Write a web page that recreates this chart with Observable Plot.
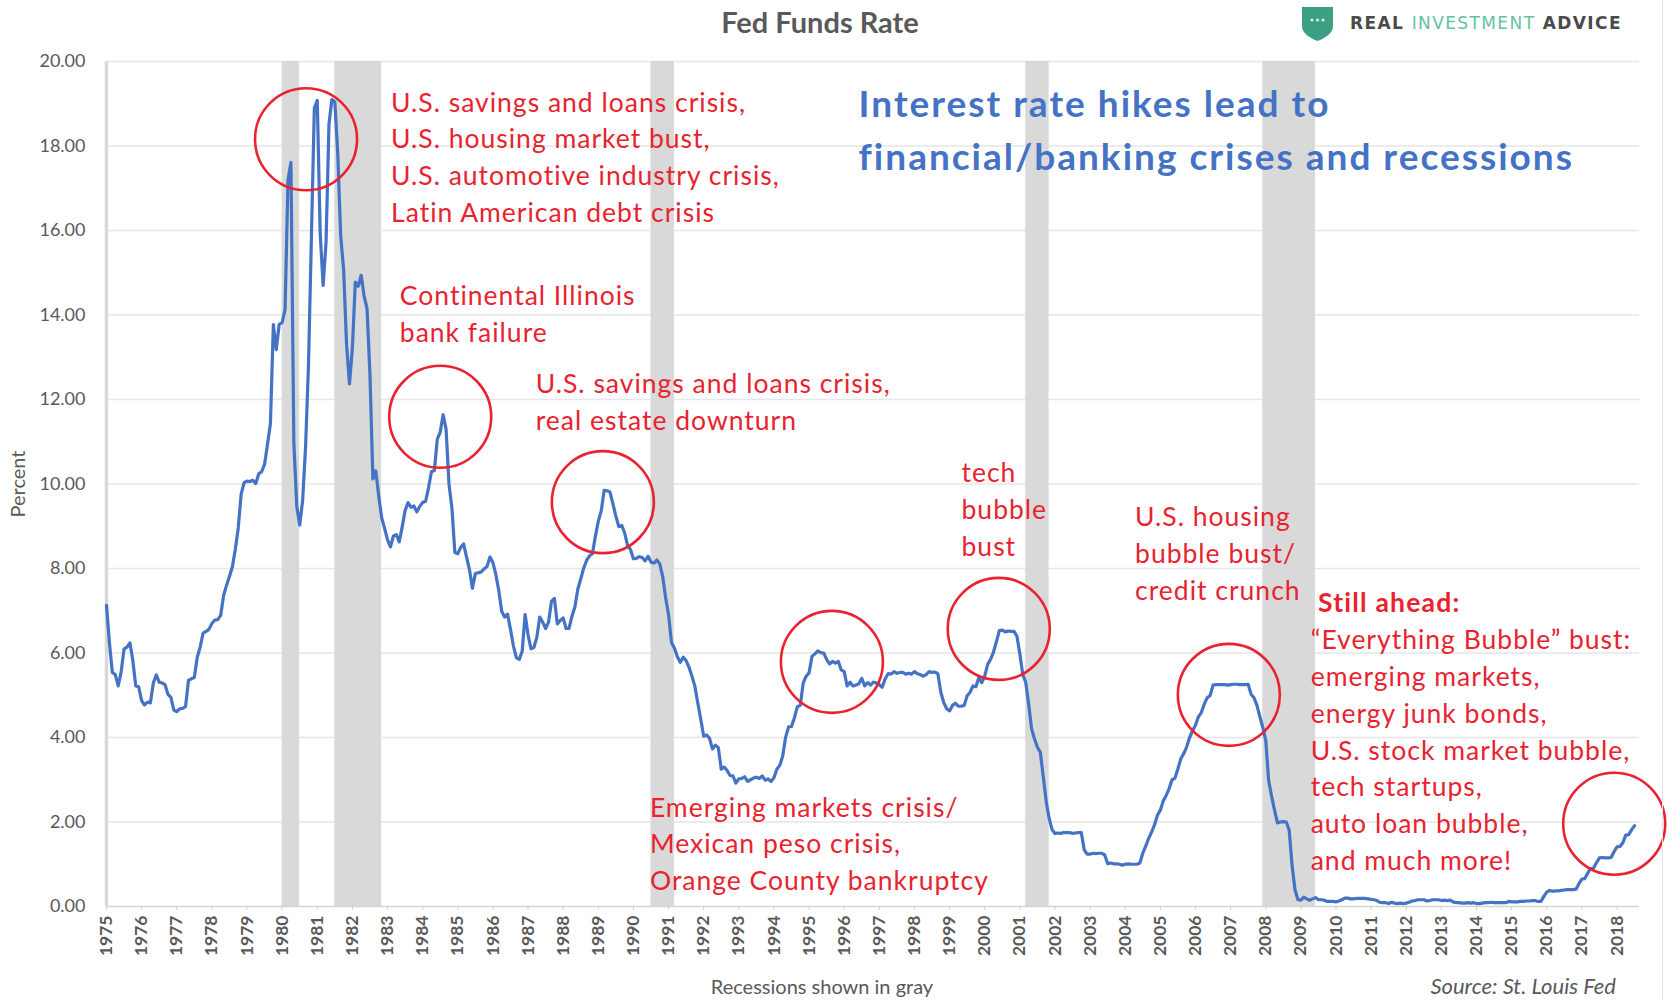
<!DOCTYPE html>
<html>
<head>
<meta charset="utf-8">
<script src="https://cdn.jsdelivr.net/npm/d3@7"></script>
<script src="https://cdn.jsdelivr.net/npm/@observablehq/plot@0.6"></script>
<style>
  html, body { margin: 0; padding: 0; background: #fff; }
  #wrap { position: relative; width: 1669px; height: 1001px; overflow: hidden; font-family: Lato, "Open Sans", sans-serif; }
  #chart { position: absolute; left: 0; top: 0; }
  #title { position: absolute; left: 820px; top: 21px; transform: translate(-50%, -50%); white-space: nowrap;
           font-size: 29px; font-weight: 700; color: #595959; }
  #logo { position: absolute; left: 1301px; top: 4px; height: 38px; display: flex; align-items: center; white-space: nowrap; }
  #logo .txt { margin-left: 16px; font-family: "DejaVu Sans", sans-serif; font-weight: 700; font-size: 17px; letter-spacing: 1.4px; color: #4a4a4a; }
  #logo .txt .g { color: #62c3a3; font-weight: 400; }
  #foot1 { position: absolute; left: 822px; top: 986px; transform: translate(-50%, -50%); white-space: nowrap; font-size: 20px; line-height: 1; color: #595959; }
  #foot2 { position: absolute; right: 53px; top: 986px; transform: translateY(-50%); white-space: nowrap; font-size: 22px; line-height: 1; font-style: italic; color: #595959; }
  #edge { position: absolute; left: 1662px; top: 0; width: 1px; height: 1001px; background: #e4e4e4; }
  #chart g[aria-label="text"][fill="#e8232f"] text { letter-spacing: 1px; }
  #chart g[aria-label="text"][fill="#e8232f"][font-weight="700"] text { letter-spacing: 1.2px; }
  #chart g[aria-label="text"][font-size="37"] text { letter-spacing: 2px; }
</style>
</head>
<body>
<div id="wrap">
  <div id="chart"></div>
  <div id="title">Fed Funds Rate</div>
  <div id="logo">
    <svg width="33" height="37" viewBox="0 0 33 37">
      <path d="M1,2 H32 V21 Q32,30 16.5,36 Q1,30 1,21 Z" fill="#3a9f83"/>
      <circle cx="11" cy="15" r="1.6" fill="#d8f2ea"/>
      <circle cx="16.5" cy="15" r="1.6" fill="#d8f2ea"/>
      <circle cx="22" cy="15" r="1.6" fill="#d8f2ea"/>
    </svg>
    <span class="txt">REAL <span class="g">INVESTMENT</span> ADVICE</span>
  </div>
  <div id="foot1">Recessions shown in gray</div>
  <div id="foot2">Source: St. Louis Fed</div>
  <div id="edge"></div>
</div>
<script>
// ---- Data: monthly effective Fed Funds Rate (percent), starting Jan 1975 ----
const startYear = 1975;
const rate1975_1979 = [
  7.13, 6.24, 5.54, 5.49, 5.22, 5.55, 6.10, 6.14, 6.24, 5.82, 5.22, 5.20,
  4.87, 4.77, 4.84, 4.82, 5.29, 5.48, 5.31, 5.29, 5.25, 5.02, 4.95, 4.65,
  4.61, 4.68, 4.69, 4.73, 5.35, 5.39, 5.42, 5.90, 6.14, 6.47, 6.51, 6.56,
  6.70, 6.78, 6.79, 6.89, 7.36, 7.60, 7.81, 8.04, 8.45, 8.96, 9.76, 10.03,
  10.07, 10.06, 10.09, 10.01, 10.24, 10.29, 10.47, 10.94, 11.43, 13.77, 13.18, 13.78
];
const rate1980_1989 = [
  13.82, 14.13, 17.19, 17.61, 10.98, 9.47, 9.03, 9.61, 10.87, 12.81, 15.85, 18.90,
  19.08, 15.93, 14.70, 15.72, 18.52, 19.10, 19.04, 17.82, 15.87, 15.08, 13.31, 12.37,
  13.22, 14.78, 14.68, 14.94, 14.45, 14.15, 12.59, 10.12, 10.31, 9.71, 9.20, 8.95,
  8.68, 8.51, 8.77, 8.80, 8.63, 8.98, 9.37, 9.56, 9.45, 9.48, 9.34, 9.47,
  9.56, 9.59, 9.91, 10.29, 10.32, 11.06, 11.23, 11.64, 11.30, 9.99, 9.43, 8.38,
  8.35, 8.50, 8.58, 8.27, 7.97, 7.53, 7.88, 7.90, 7.92, 7.99, 8.05, 8.27,
  8.14, 7.86, 7.48, 6.99, 6.85, 6.92, 6.56, 6.17, 5.89, 5.85, 6.04, 6.91,
  6.43, 6.10, 6.13, 6.37, 6.85, 6.73, 6.58, 6.73, 7.22, 7.29, 6.69, 6.77,
  6.83, 6.58, 6.58, 6.87, 7.09, 7.51, 7.75, 8.01, 8.19, 8.30, 8.35, 8.76,
  9.12, 9.36, 9.85, 9.84, 9.81, 9.53, 9.24, 8.99, 9.02, 8.84, 8.55, 8.45
];
const rate1990_1999 = [
  8.23, 8.24, 8.28, 8.26, 8.18, 8.29, 8.15, 8.13, 8.20, 8.11, 7.81, 7.31,
  6.91, 6.25, 6.12, 5.91, 5.78, 5.90, 5.82, 5.66, 5.45, 5.21, 4.81, 4.43,
  4.03, 4.06, 3.98, 3.73, 3.82, 3.76, 3.25, 3.30, 3.22, 3.10, 3.09, 2.92,
  3.02, 3.03, 3.07, 2.96, 3.00, 3.04, 3.06, 3.03, 3.09, 2.99, 3.02, 2.96,
  3.05, 3.25, 3.34, 3.56, 4.01, 4.25, 4.26, 4.47, 4.73, 4.76, 5.29, 5.45,
  5.53, 5.92, 5.98, 6.05, 6.01, 6.00, 5.85, 5.74, 5.80, 5.76, 5.80, 5.60,
  5.56, 5.22, 5.31, 5.22, 5.24, 5.27, 5.40, 5.22, 5.30, 5.24, 5.31, 5.29,
  5.25, 5.19, 5.39, 5.51, 5.50, 5.56, 5.52, 5.54, 5.54, 5.50, 5.52, 5.50,
  5.56, 5.51, 5.49, 5.45, 5.49, 5.56, 5.54, 5.55, 5.51, 5.07, 4.83, 4.68,
  4.63, 4.76, 4.81, 4.74, 4.74, 4.76, 4.99, 5.07, 5.22, 5.20, 5.42, 5.30
];
const rate2000_2009 = [
  5.45, 5.73, 5.85, 6.02, 6.27, 6.53, 6.54, 6.50, 6.52, 6.51, 6.51, 6.40,
  5.98, 5.49, 5.31, 4.80, 4.21, 3.97, 3.77, 3.65, 3.07, 2.49, 2.09, 1.82,
  1.73, 1.74, 1.73, 1.75, 1.75, 1.75, 1.73, 1.74, 1.75, 1.75, 1.34, 1.24,
  1.24, 1.26, 1.25, 1.26, 1.26, 1.22, 1.01, 1.03, 1.01, 1.01, 1.00, 0.98,
  1.00, 1.01, 1.00, 1.00, 1.00, 1.03, 1.26, 1.43, 1.61, 1.76, 1.93, 2.16,
  2.28, 2.50, 2.63, 2.79, 3.00, 3.04, 3.26, 3.50, 3.62, 3.78, 4.00, 4.16,
  4.29, 4.49, 4.59, 4.79, 4.94, 4.99, 5.24, 5.25, 5.25, 5.25, 5.25, 5.24,
  5.25, 5.26, 5.26, 5.25, 5.25, 5.25, 5.26, 5.02, 4.94, 4.76, 4.49, 4.24,
  3.94, 2.98, 2.61, 2.28, 1.98, 2.00, 2.01, 2.00, 1.81, 0.97, 0.39, 0.16,
  0.15, 0.22, 0.18, 0.15, 0.18, 0.21, 0.16, 0.16, 0.15, 0.12, 0.12, 0.12
];
const rate2010_2018 = [
  0.11, 0.13, 0.16, 0.20, 0.20, 0.18, 0.18, 0.19, 0.19, 0.19, 0.19, 0.18,
  0.17, 0.16, 0.14, 0.10, 0.09, 0.09, 0.07, 0.10, 0.08, 0.07, 0.08, 0.07,
  0.08, 0.10, 0.13, 0.14, 0.16, 0.16, 0.16, 0.13, 0.14, 0.16, 0.16, 0.16,
  0.14, 0.15, 0.14, 0.15, 0.11, 0.09, 0.09, 0.08, 0.08, 0.09, 0.08, 0.09,
  0.07, 0.07, 0.08, 0.09, 0.09, 0.10, 0.09, 0.09, 0.09, 0.09, 0.09, 0.12,
  0.11, 0.11, 0.11, 0.12, 0.12, 0.13, 0.13, 0.14, 0.14, 0.12, 0.12, 0.24,
  0.34, 0.38, 0.36, 0.37, 0.37, 0.38, 0.39, 0.40, 0.40, 0.40, 0.41, 0.54,
  0.65, 0.66, 0.79, 0.90, 0.91, 1.04, 1.15, 1.16, 1.15, 1.15, 1.16, 1.30,
  1.41, 1.42, 1.51, 1.69, 1.70, 1.82, 1.91
];

// Recessions (shaded gray)
const recessionStart = ["1980-01", "1981-07", "1990-07", "2001-03", "2007-12"];
const recessionEnd   = ["1980-07", "1982-11", "1991-03", "2001-11", "2009-06"];

// Tick labels
const yearTicks = d3.range(1975, 2019);
const percentTicks = d3.range(0, 21, 2);

// Annotations (anchored in data space: decimal year, percent)
const circleYear  = [1980.68, 1984.50, 1989.13, 1995.65, 2000.40, 2006.95, 2017.92];
const circleValue = [18.16, 11.59, 9.57, 5.79, 6.57, 5.01, 1.96];

const noteText = [
  "U.S. savings and loans crisis,\nU.S. housing market bust,\nU.S. automotive industry crisis,\nLatin American debt crisis",
  "Continental Illinois\nbank failure",
  "U.S. savings and loans crisis,\nreal estate downturn",
  "tech\nbubble\nbust",
  "U.S. housing\nbubble bust/\ncredit crunch",
  "\u201CEverything Bubble\u201D bust:\nemerging markets,\nenergy junk bonds,\nU.S. stock market bubble,\ntech startups,\nauto loan bubble,\nand much more!",
  "Emerging markets crisis/\nMexican peso crisis,\nOrange County bankruptcy"
];
const noteYear  = [1983.10, 1983.35, 1987.22, 1999.34, 2004.28, 2009.28, 1990.47];
const noteValue = [17.69, 13.99, 11.90, 9.35, 8.31, 3.66, 1.44];

const boldNote = ["Still ahead:"];
const boldYear = [2009.49];
const boldValue = [7.18];

const headline = ["Interest rate hikes lead to\nfinancial/banking crises and recessions"];
const headlineYear = [1996.41];
const headlineValue = [18.32];

// ---- Build tables ----
const toYear = s => { const [y, m] = s.split("-").map(Number); return y + (m - 1) / 12; };
const rates = [...rate1975_1979, ...rate1980_1989, ...rate1990_1999, ...rate2000_2009, ...rate2010_2018];
const series = rates.map((v, i) => ({t: startYear + i / 12, v}));
const recessions = recessionStart.map((s, i) => ({t1: toYear(s), t2: toYear(recessionEnd[i])}));
const circles = circleYear.map((t, i) => ({t, v: circleValue[i]}));
const notes = noteText.map((text, i) => ({t: noteYear[i], v: noteValue[i], text}));
const bolds = boldNote.map((text, i) => ({t: boldYear[i], v: boldValue[i], text}));
const heads = headline.map((text, i) => ({t: headlineYear[i], v: headlineValue[i], text}));

const RED = "#e8232f";
const BLUE = "#4472C4";

const chart = Plot.plot({
  width: 1669,
  height: 1001,
  marginLeft: 106,
  marginRight: 30,
  marginTop: 61,
  marginBottom: 95,
  style: {fontFamily: "Lato, 'Open Sans', sans-serif", color: "#595959", background: "transparent", overflow: "visible"},
  x: {type: "linear", domain: [1975, 2018.64]},
  y: {type: "linear", domain: [0, 20]},
  marks: [
    Plot.ruleY(percentTicks.filter(d => d > 0), {stroke: "#e6e6e6", strokeWidth: 1.6}),
    Plot.rect(recessions, {x1: "t1", x2: "t2", y1: 0, y2: 20, fill: "#d9d9d9"}),
    Plot.ruleY([0], {stroke: "#d4d4d4", strokeWidth: 1.6}),
    Plot.ruleX([1975], {y1: 0, y2: 20, stroke: "#d9d9d9", strokeWidth: 3.5}),
    Plot.axisY({ticks: percentTicks, tickFormat: d3.format(".2f"), tickSize: 0, tickPadding: 21, fontSize: 18, label: null}),
    Plot.axisX({ticks: yearTicks, tickFormat: d => String(d), tickRotate: -90, tickSize: 4, tickPadding: 5,
                stroke: "#cfcfcf", fill: "#595959", fontSize: 17.5, fontWeight: 700, label: null}),
    Plot.text(["Percent"], {frameAnchor: "left", textAnchor: "middle", rotate: -90, dx: -88, fontSize: 20, fill: "#595959"}),
    Plot.line(series, {x: "t", y: "v", stroke: BLUE, strokeWidth: 3.2, strokeLinejoin: "round"}),
    Plot.dot(circles, {x: "t", y: "v", r: 51, stroke: RED, strokeWidth: 2.6, fill: "none"}),
    Plot.text(notes, {x: "t", y: "v", text: "text", textAnchor: "start", lineAnchor: "middle", dy: -4,
                      fontSize: 26.5, lineHeight: 1.39, fill: RED}),
    Plot.text(bolds, {x: "t", y: "v", text: "text", textAnchor: "start", lineAnchor: "middle",
                      fontSize: 26.5, fontWeight: 700, fill: RED}),
    Plot.text(heads, {x: "t", y: "v", text: "text", textAnchor: "start", lineAnchor: "middle", dy: -6,
                      fontSize: 37, fontWeight: 700, lineHeight: 1.44, fill: BLUE})
  ]
});
document.getElementById("chart").appendChild(chart);
</script>
</body>
</html>
